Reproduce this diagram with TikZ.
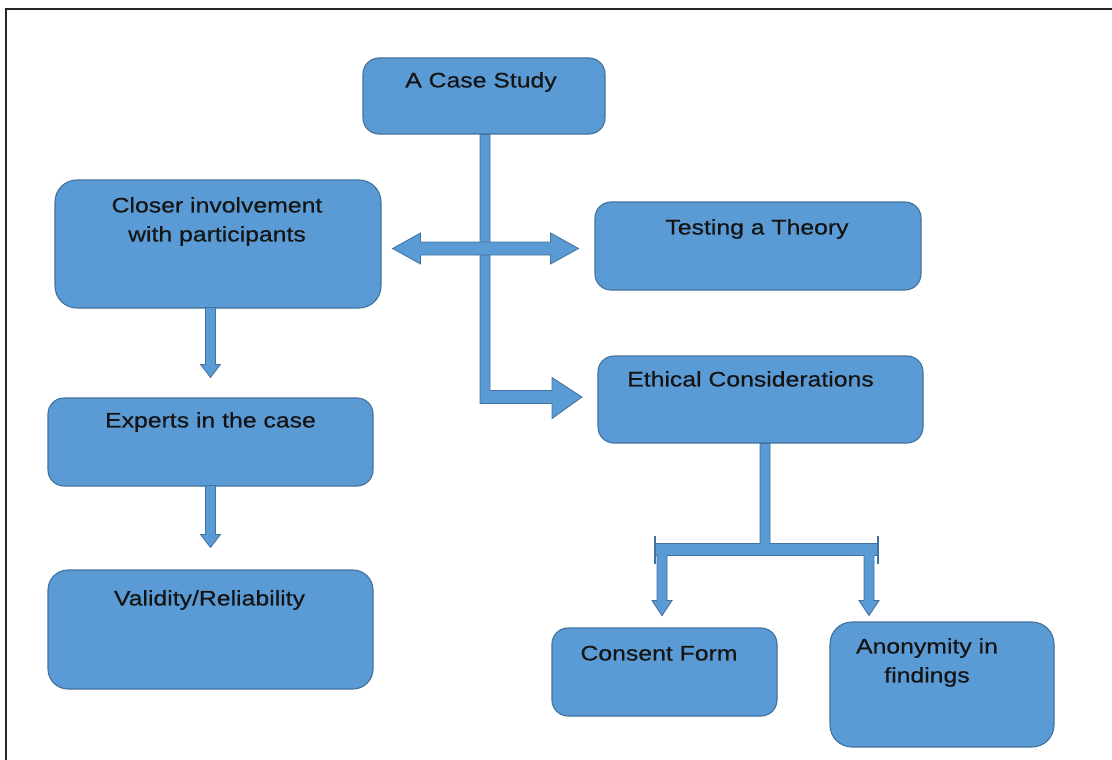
\documentclass[tikz,border=0pt]{standalone}
\usepackage{fontspec}
\setmainfont{Liberation Sans}[FakeStretch=1.18, FakeBold=0.5]
\usetikzlibrary{calc}
\definecolor{boxfill}{HTML}{5B9BD5}
\definecolor{boxline}{HTML}{41719C}
\definecolor{ink}{HTML}{141414}
\tikzset{
  box/.style={rectangle, rounded corners=16pt, fill=boxfill, draw=boxline,
    line width=1.1pt, inner sep=0pt},
  boxtext/.style={anchor=base, inner sep=0pt, align=center, text=ink,
    font=\fontsize{21}{29}\selectfont},
  blockarrow/.style={fill=boxfill, draw=boxline, line width=0.8pt, line join=miter},
  endcap/.style={draw=boxline, line width=2pt}
}
\begin{document}
\begin{tikzpicture}[x=1pt, y=-1pt]
\useasboundingbox (0,0) rectangle (1112,760);

% frame
\draw[line width=2.4pt, black!85] (6,760) -- (6,9) -- (1112,9);

% boxes
\node[box, minimum width=242pt, minimum height=76pt] (case) at (484,96) {};
\node[box, minimum width=326pt, minimum height=128pt, rounded corners=22pt] (closer) at (218,244) {};
\node[box, minimum width=326pt, minimum height=88pt] (theory) at (758,246) {};
\node[box, minimum width=325pt, minimum height=87pt] (ethics) at (760.5,399.5) {};
\node[box, minimum width=325pt, minimum height=88pt] (experts) at (210.5,442) {};
\node[box, minimum width=325pt, minimum height=119pt, rounded corners=20pt] (validity) at (210.5,629.5) {};
\node[box, minimum width=225pt, minimum height=88pt] (consent) at (664.5,672) {};
\node[box, minimum width=224pt, minimum height=125pt, rounded corners=22pt] (anon) at (942,684.5) {};

% texts (base anchor sits on the last line of a two-line label)
\node[boxtext] (caseT) at ($(case.north)+(-3,30)$) {A Case Study};
\node[boxtext] (closerT) at ($(closer.north)+(-1,62)$) {Closer involvement\\with participants};
\node[boxtext] (theoryT) at ($(theory.north)+(-1,33)$) {Testing a Theory};
\node[boxtext] (ethicsT) at ($(ethics.north)+(-10,31)$) {Ethical Considerations};
\node[boxtext] (expertsT) at ($(experts.north)+(0,30)$) {Experts in the case};
\node[boxtext] (validityT) at ($(validity.north)+(-1,36)$) {Validity/Reliability};
\node[boxtext] (consentT) at ($(consent.north)+(-5.5,33)$) {Consent Form};
\node[boxtext] (anonT) at ($(anon.north)+(-15,61)$) {Anonymity in\\findings};

% case study -> ethical considerations (down, then right)
\begin{scope}[shift={(case.south)}]
  \path[blockarrow] (-4,0) -- (-4,269) -- (68,269) -- (68,284) -- (98,262.5)
    -- (68,243) -- (68,256) -- (6,256) -- (6,0) -- cycle;
\end{scope}

% closer involvement <-> testing a theory
\begin{scope}[shift={(closer.east)}]
  \path[blockarrow] (11,4.5) -- (39,-11) -- (39,-2) -- (169,-2) -- (169,-11)
    -- (197,4.5) -- (169,20) -- (169,11) -- (39,11) -- (39,20) -- cycle;
\end{scope}

% closer involvement -> experts
\begin{scope}[shift={(experts.north)}]
  \path[blockarrow] (-5,-90) -- (-5,-33) -- (-10,-33) -- (0,-20) -- (10,-33)
    -- (5,-33) -- (5,-90) -- cycle;
\end{scope}

% experts -> validity
\begin{scope}[shift={(validity.north)}]
  \path[blockarrow] (-5,-84) -- (-5,-35) -- (-10,-35) -- (0,-22) -- (10,-35)
    -- (5,-35) -- (5,-84) -- cycle;
\end{scope}

% ethical considerations -> consent form / anonymity
\begin{scope}[shift={(ethics.south)}]
  \path[blockarrow] (-0.5,0) -- (-0.5,100) -- (-105.5,100) -- (-105.5,112)
    -- (-103.5,112) -- (-103.5,157) -- (-108.5,157) -- (-98.5,172) -- (-88.5,157)
    -- (-93.5,157) -- (-93.5,112) -- (103.5,112) -- (103.5,157) -- (98.5,157)
    -- (108.5,172) -- (118.5,157) -- (113.5,157) -- (113.5,112) -- (117.5,112)
    -- (117.5,100) -- (9.5,100) -- (9.5,0) -- cycle;
  \draw[endcap] (-105.5,92) -- (-105.5,120);
  \draw[endcap] (117.5,92) -- (117.5,120);
\end{scope}
\end{tikzpicture}
\end{document}
